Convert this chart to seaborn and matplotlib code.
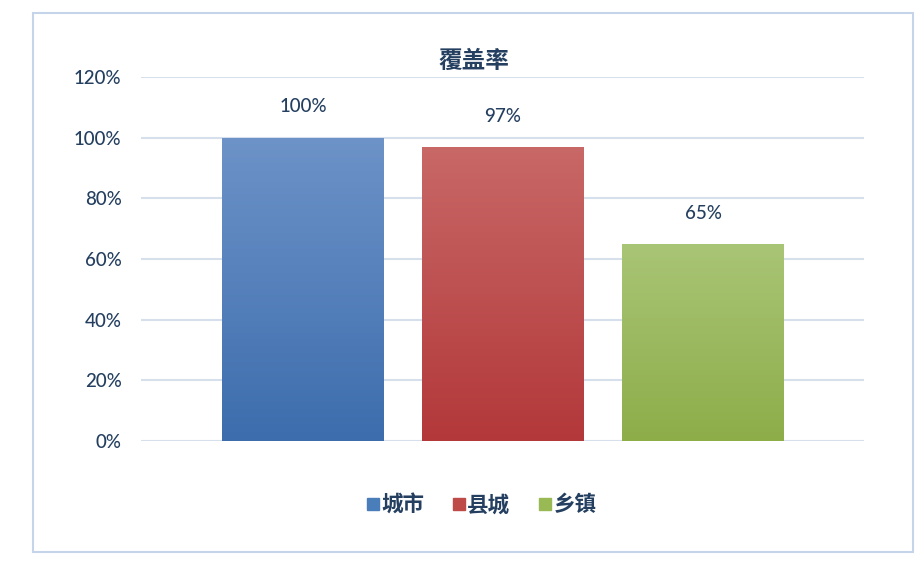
import numpy as np
import pandas as pd
import matplotlib
matplotlib.use("Agg")
import matplotlib.pyplot as plt
import matplotlib.patches as mpatches
from matplotlib.lines import Line2D
import seaborn as sns

# data
categories = ["城市", "县城", "乡镇"]
coverage = [1.00, 0.97, 0.65]
value_labels = ["100%", "97%", "65%"]
yticks = [0, 0.2, 0.4, 0.6, 0.8, 1.0, 1.2]
ytick_labels = ["0%", "20%", "40%", "60%", "80%", "100%", "120%"]

top_colors = ["#6D93C8", "#C86867", "#A9C576"]
bottom_colors = ["#3D6DAD", "#B3383A", "#8DAD49"]
legend_colors = ["#4A7EBB", "#BE4B48", "#98B954"]
text_color = "#243F60"

sns.set_theme(style="white")
plt.rcParams['font.family'] = ['Lato', 'Noto Sans CJK SC', 'DejaVu Sans']

df = pd.DataFrame({"cat": categories, "val": coverage})

fig = plt.figure(figsize=(9.2, 5.62), dpi=100)
ax = fig.add_axes([141 / 920, 1 - 441 / 562, 723 / 920, 364 / 562])

sns.barplot(data=df, x="cat", y="val", hue="cat", palette=legend_colors,
            width=0.81, legend=False, ax=ax, zorder=3)

ax.set_ylim(0, 1.2)
ax.set_yticks(yticks)
ax.set_yticklabels(ytick_labels, color=text_color, fontsize=13.5, fontweight="medium")
ax.set_xticks([])
ax.set_xlabel("")
ax.set_ylabel("")
ax.grid(axis="y", color="#D6E0EC", linewidth=1.5, zorder=0)
ax.set_axisbelow(True)
for s in ax.spines.values():
    s.set_visible(False)
ax.tick_params(axis="y", length=0, pad=14)

# gradient fills clipped to the bars
for i, bar in enumerate(ax.patches):
    x0, y0 = bar.get_x(), bar.get_y()
    w, h = bar.get_width(), bar.get_height()
    c1 = np.array(matplotlib.colors.to_rgb(bottom_colors[i]))
    c2 = np.array(matplotlib.colors.to_rgb(top_colors[i]))
    t = np.linspace(0, 1, 256)[:, None]
    grad = (c1 * (1 - t) + c2 * t)[:, None, :]
    im = ax.imshow(grad, extent=[x0, x0 + w, y0, y0 + h], origin="lower",
                   aspect="auto", zorder=3, interpolation="bilinear")
    im.set_clip_path(bar)
    bar.set_facecolor("none")
    bar.set_edgecolor("none")
    ax.annotate(value_labels[i], (x0 + w / 2, y0 + h), xytext=(0, 16),
                textcoords="offset points", ha="center", va="bottom",
                fontsize=13.5, fontweight="medium", color=text_color)
ax.set_xlim(-0.81, 2.805)
ax.set_ylim(0, 1.2)

fig.text(474 / 920, 1 - 60 / 562, "覆盖率", ha="center", va="center",
         fontsize=17, fontweight="bold", color=text_color)

handles = [Line2D([], [], marker="s", linestyle="none", markersize=8,
                  color=c) for c in legend_colors]
fig.legend(handles, categories, loc="center", bbox_to_anchor=(478 / 920, 1 - 505 / 562),
           ncol=3, frameon=False, handletextpad=-0.2, columnspacing=1.0,
           handlelength=1.2, prop={"size": 15.5, "weight": "bold"}, labelcolor=text_color)

fig.patches.append(mpatches.Rectangle((33 / 920, 1 - 552 / 562), 880 / 920, 539 / 562,
                                      transform=fig.transFigure, fill=False,
                                      edgecolor="#C5D4E8", linewidth=1.5))

fig.savefig("out.png", dpi=100)
